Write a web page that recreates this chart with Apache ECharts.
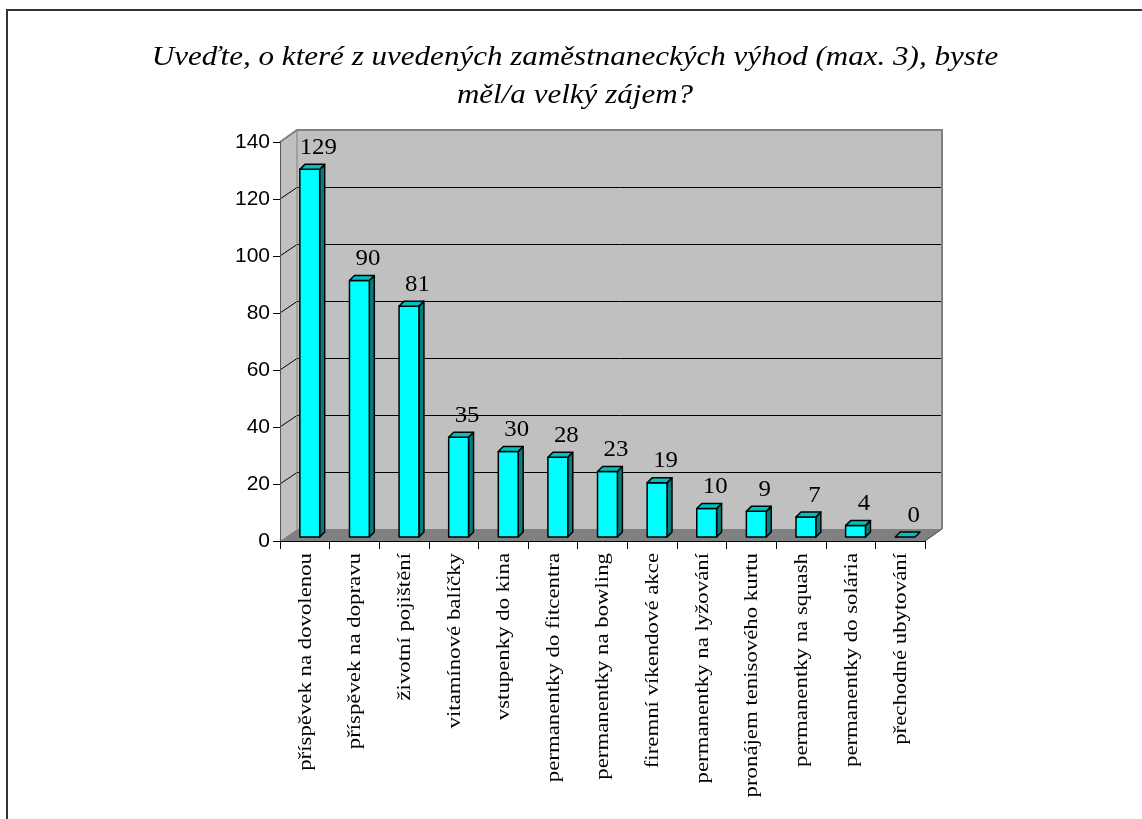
<!DOCTYPE html>
<html>
<head>
<meta charset="utf-8">
<style>
  html, body { margin: 0; padding: 0; background: #ffffff; }
  #chart { width: 1142px; height: 819px; }
</style>
<script src="https://cdn.jsdelivr.net/npm/echarts@6/dist/echarts.min.js"></script>
</head>
<body>
<div id="chart"></div>
<script>
// Survey: employee benefits of greatest interest (max. 3 answers)
const titleText = 'Uveďte, o které z uvedených zaměstnaneckých výhod (max. 3), byste\nměl/a velký zájem?';

const categories = [
  'příspěvek na dovolenou',
  'příspěvek na dopravu',
  'životní pojištění',
  'vitamínové balíčky',
  'vstupenky do kina',
  'permanentky do fitcentra',
  'permanentky na bowling',
  'firemní víkendové akce',
  'permanentky na lyžování',
  'pronájem tenisového kurtu',
  'permanentky na squash',
  'permanentky do solária',
  'přechodné ubytování'
];

const counts = [129, 90, 81, 35, 30, 28, 23, 19, 10, 9, 7, 4, 0];

const yMin = 0;
const yMax = 140;
const yStep = 20;

// Pseudo-3D look: depth of the chart box and of each column
const WALL_DX = 17, WALL_DY = -12;
const BAR_DX = 5, BAR_DY = -5;
const BAR_SHIFT_Y = -4;

const SERIF = '"Times New Roman", "Liberation Serif", serif';
const SANS = 'Arial, "Liberation Sans", sans-serif';

const chart = echarts.init(document.getElementById('chart'), null, { renderer: 'canvas' });

function crisp(v) { return Math.round(v) + 0.5; }

function renderWalls(params, api) {
  const cs = params.coordSys;
  const x0 = cs.x, x1 = cs.x + cs.width;
  const yTop = cs.y, yBot = cs.y + cs.height;
  const children = [];
  // back wall
  children.push({
    type: 'rect',
    shape: { x: x0 + WALL_DX, y: yTop + WALL_DY, width: cs.width, height: cs.height },
    style: { fill: '#c0c0c0', stroke: null }
  });
  // left side wall
  children.push({
    type: 'polygon',
    shape: { points: [[x0, yTop], [x0 + WALL_DX, yTop + WALL_DY], [x0 + WALL_DX, yBot + WALL_DY], [x0, yBot]] },
    style: { fill: '#c0c0c0', stroke: null }
  });
  // floor
  children.push({
    type: 'polygon',
    shape: { points: [[x0, yBot], [x1, yBot], [x1 + WALL_DX, yBot + WALL_DY], [x0 + WALL_DX, yBot + WALL_DY]] },
    style: { fill: '#808080', stroke: null }
  });
  // gridlines on the side and back wall
  for (let v = yMin + yStep; v < yMax; v += yStep) {
    const y = api.coord([0, v])[1];
    const yb = crisp(y + WALL_DY);
    children.push({
      type: 'polyline',
      shape: { points: [[x0, y], [x0 + WALL_DX, yb], [x1 + WALL_DX, yb]] },
      style: { stroke: '#000000', lineWidth: 1, fill: null }
    });
  }
  // box edges
  children.push({
    type: 'polyline',
    shape: { points: [[x0, yTop], [x0 + WALL_DX, yTop + WALL_DY], [x1 + WALL_DX, yTop + WALL_DY], [x1 + WALL_DX, yBot + WALL_DY]] },
    style: { stroke: '#808080', lineWidth: 2, fill: null }
  });
  children.push({
    type: 'line',
    shape: { x1: x1, y1: yBot, x2: x1 + WALL_DX, y2: yBot + WALL_DY },
    style: { stroke: '#404040', lineWidth: 1 }
  });
  children.push({
    type: 'line',
    shape: { x1: x0 + WALL_DX, y1: yTop + WALL_DY, x2: x0 + WALL_DX, y2: yBot + WALL_DY },
    style: { stroke: '#808080', lineWidth: 1 }
  });
  return { type: 'group', children: children };
}

function renderBar(params, api) {
  const idx = api.value(0);
  const val = api.value(1);
  const band = api.size([1, 0])[0];
  const base = api.coord([idx, 0]);
  const top = api.coord([idx, val]);
  const w = band * 0.40;
  const left = base[0] - w / 2 + band * 0.10;
  const right = left + w;
  const yb = base[1] + BAR_SHIFT_Y;
  const yt = top[1] + BAR_SHIFT_Y;
  const line = { stroke: '#000000', lineWidth: 1.5, lineJoin: 'round' };
  const children = [];
  if (yb - yt > 0.5) {
    children.push({
      type: 'polygon',
      shape: { points: [[right, yt], [right + BAR_DX, yt + BAR_DY], [right + BAR_DX, yb + BAR_DY], [right, yb]] },
      style: Object.assign({ fill: '#008080' }, line)
    });
    children.push({
      type: 'rect',
      shape: { x: left, y: yt, width: w, height: yb - yt },
      style: Object.assign({ fill: '#00ffff' }, line)
    });
  }
  children.push({
    type: 'polygon',
    shape: { points: [[left, yt], [right, yt], [right + BAR_DX, yt + BAR_DY], [left + BAR_DX, yt + BAR_DY]] },
    style: Object.assign({ fill: '#00c0c0' }, line)
  });
  // value label above the column
  children.push({
    type: 'text',
    x: (left + right + BAR_DX) / 2 + 6,
    y: yt + BAR_DY - 5,
    scaleX: 1.08,
    style: {
      text: String(val),
      x: 0,
      y: 0,
      align: 'center',
      verticalAlign: 'bottom',
      font: '23px ' + SERIF,
      fill: '#000000'
    }
  });
  // category name, vertical, reading bottom to top
  children.push({
    type: 'text',
    x: base[0] + 1,
    y: base[1] + 12,
    rotation: Math.PI / 2,
    scaleX: 1.2,
    style: {
      text: categories[idx],
      x: 0,
      y: 0,
      align: 'right',
      verticalAlign: 'middle',
      font: '19px ' + SERIF,
      fill: '#000000'
    }
  });
  return { type: 'group', children: children };
}

chart.setOption({
  animation: false,
  backgroundColor: '#ffffff',
  graphic: [
    {
      type: 'rect',
      z: -10,
      shape: { x: 7, y: 10, width: 2000, height: 2000 },
      style: { fill: null, stroke: '#333333', lineWidth: 2 }
    },
    {
      type: 'text',
      x: 575,
      y: 39,
      scaleX: 1.15,
      style: {
        text: titleText,
        font: 'italic 27px ' + SERIF,
        align: 'center',
        verticalAlign: 'top',
        lineHeight: 38,
        fill: '#000000'
      }
    }
  ],
  grid: { left: 280, right: 217, top: 142, bottom: 278, containLabel: false },
  xAxis: {
    type: 'category',
    data: categories,
    boundaryGap: true,
    z: 5,
    axisLine: { show: true, lineStyle: { color: '#000000', width: 1 } },
    axisTick: { show: true, length: 8, interval: 0, lineStyle: { color: '#000000' } },
    axisLabel: { show: false },
    splitLine: { show: false }
  },
  yAxis: {
    type: 'value',
    min: yMin,
    max: yMax,
    interval: yStep,
    z: 5,
    axisLine: { show: true, lineStyle: { color: '#555555', width: 1 } },
    axisTick: { show: true, length: 7, lineStyle: { color: '#000000' } },
    axisLabel: { margin: 10, fontFamily: SANS, fontSize: 21, color: '#000000' },
    splitLine: { show: false }
  },
  series: [
    {
      type: 'custom',
      z: 1,
      silent: true,
      renderItem: renderWalls,
      data: [[0, 0]]
    },
    {
      type: 'custom',
      z: 3,
      renderItem: renderBar,
      encode: { x: 0, y: 1 },
      data: counts.map(function (v, i) { return [i, v]; })
    }
  ]
});
</script>
</body>
</html>
